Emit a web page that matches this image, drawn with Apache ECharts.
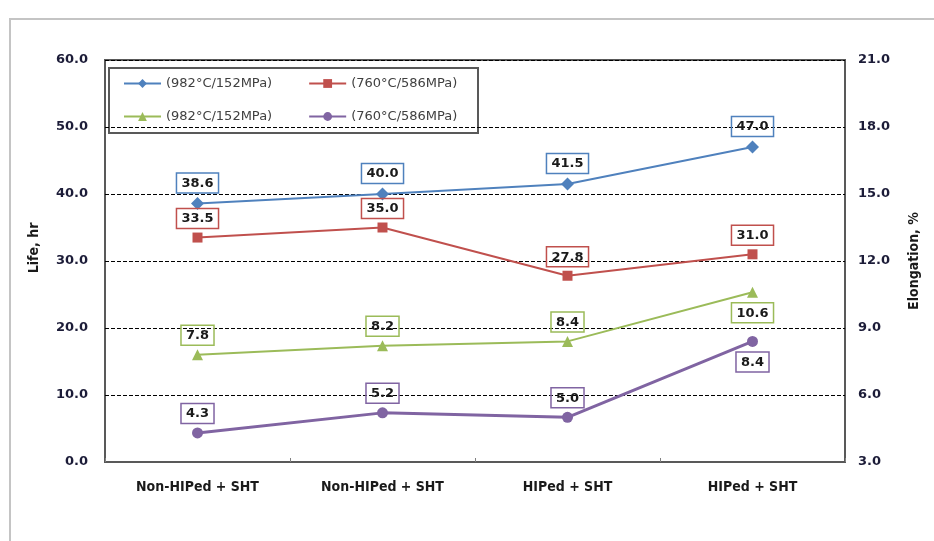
<!DOCTYPE html>
<html>
<head>
<meta charset="utf-8">
<script src="https://cdn.jsdelivr.net/npm/echarts@6/dist/echarts.min.js"></script>
<style>
html,body{margin:0;padding:0;background:#fff;}
#chart{width:934px;height:541px;}
</style>
</head>
<body>
<div id="chart"></div>
<script>
const categories = ['Non-HIPed + SHT', 'Non-HIPed + SHT', 'HIPed + SHT', 'HIPed + SHT'];
const life982 = [38.6, 40.0, 41.5, 47.0];
const life760 = [33.5, 35.0, 27.8, 31.0];
const elong982 = [7.8, 8.2, 8.4, 10.6];
const elong760 = [4.3, 5.2, 5.0, 8.4];
const seriesNames = ['Life (982°C/152MPa)', 'Life (760°C/586MPa)', 'Elongation (982°C/152MPa)', 'Elongation (760°C/586MPa)'];
const leftTicks = {min: 0, max: 60, interval: 10};
const rightTicks = {min: 3, max: 21, interval: 3};

const condensed = "'Liberation Sans Narrow', 'DejaVu Sans Condensed', 'DejaVu Sans', sans-serif";
const chart = echarts.init(document.getElementById('chart'));
const labelBase = {
  show: true,
  position: 'top',
  distance: 4,
  fontFamily: 'DejaVu Sans',
  fontWeight: 'bold',
  fontSize: 13,
  color: '#1a1a1a',
  padding: [4, 5, 3, 5],
  borderWidth: 1.5,
  formatter: p => Number(p.value).toFixed(1)
};
function mkSeries(name, data, axis, symbol, size, color, width, belowLast) {
  return {
    name: name,
    type: 'line',
    yAxisIndex: axis,
    symbol: symbol,
    symbolSize: size,
    itemStyle: {color: color},
    lineStyle: {color: color, width: width},
    label: Object.assign({}, labelBase, {borderColor: color}),
    data: data.map((v, i) => (belowLast && i === data.length - 1)
      ? {value: v, label: {position: 'bottom', distance: 5}}
      : v),
    z: 3
  };
}
const axisLabelStyle = {fontFamily: 'DejaVu Sans', fontWeight: 'bold', fontSize: 13, color: '#1c1c38'};
const legendText = {fontFamily: 'DejaVu Sans', fontSize: 13, color: '#404040'};
const fmt = n => n.replace(/^[A-Za-z]+ /, '');

chart.setOption({
  animation: false,
  backgroundColor: '#fff',
  grid: {left: 105, right: 89, top: 60, bottom: 79, show: true, borderColor: '#595959', borderWidth: 2, backgroundColor: 'transparent'},
  legend: [
    {data: [seriesNames[0], seriesNames[1]], left: 118, top: 72, itemWidth: 37, itemHeight: 11, itemGap: 36, textStyle: legendText, formatter: fmt, selectedMode: false},
    {data: [seriesNames[2], seriesNames[3]], left: 118, top: 105, itemWidth: 37, itemHeight: 11, itemGap: 36, textStyle: legendText, formatter: fmt, selectedMode: false}
  ],
  graphic: [
    {type: 'rect', shape: {x: 10, y: 19, width: 1000, height: 600}, style: {fill: 'none', stroke: '#c4c4c4', lineWidth: 2}, silent: true, z: -1},
    {type: 'rect', shape: {x: 109, y: 68, width: 369, height: 65}, style: {fill: 'none', stroke: '#595959', lineWidth: 2}, silent: true}
  ],
  xAxis: {
    type: 'category',
    data: categories,
    boundaryGap: true,
    axisLine: {show: true, lineStyle: {color: '#595959', width: 2}},
    axisTick: {show: true, inside: true, length: 4, lineStyle: {color: '#808080'}},
    axisLabel: {fontFamily: condensed, fontWeight: 'bold', fontSize: 14, color: '#1a1a1a', margin: 18, interval: 0},
    splitLine: {show: false}
  },
  yAxis: [
    {
      type: 'value',
      min: leftTicks.min, max: leftTicks.max, interval: leftTicks.interval,
      name: 'Life, hr',
      nameLocation: 'middle',
      nameGap: 64,
      nameTextStyle: {fontFamily: condensed, fontWeight: 'bold', fontSize: 14, color: '#1a1a1a', padding: [0, 0, 0, 26]},
      axisLine: {show: false},
      axisTick: {show: false},
      axisLabel: Object.assign({}, axisLabelStyle, {margin: 17, formatter: v => v.toFixed(1)}),
      splitLine: {show: true, lineStyle: {color: '#000', type: [4, 2], width: 1}}
    },
    {
      type: 'value',
      min: rightTicks.min, max: rightTicks.max, interval: rightTicks.interval,
      name: 'Elongation, %',
      nameLocation: 'middle',
      nameGap: 62,
      nameTextStyle: {fontFamily: condensed, fontWeight: 'bold', fontSize: 14, color: '#1a1a1a'},
      axisLine: {show: false},
      axisTick: {show: false},
      axisLabel: Object.assign({}, axisLabelStyle, {margin: 13, formatter: v => v.toFixed(1)}),
      splitLine: {show: false}
    }
  ],
  series: [
    mkSeries(seriesNames[0], life982, 0, 'diamond', 13, '#4f81bd', 2, false),
    mkSeries(seriesNames[1], life760, 0, 'rect', 10, '#c0504d', 2, false),
    mkSeries(seriesNames[2], elong982, 1, 'triangle', 11, '#9bbb59', 2, true),
    mkSeries(seriesNames[3], elong760, 1, 'circle', 11, '#8064a2', 3, true)
  ]
});
</script>
</body>
</html>
